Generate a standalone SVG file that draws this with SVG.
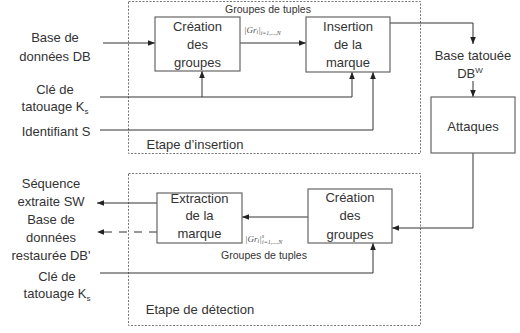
<svg xmlns="http://www.w3.org/2000/svg" width="520" height="333" viewBox="0 0 520 333">
<style>
text{font-family:"Liberation Sans",Arial,sans-serif;font-size:13px;fill:#333;text-anchor:middle}
.sm{font-size:10.5px}
.f{font-family:"Liberation Serif","Times New Roman",serif;font-style:italic;font-size:9px;fill:#555;text-anchor:start}
.box{fill:#fff;stroke:#666;stroke-width:1.2}
.stage{fill:none;stroke:#777;stroke-width:1;stroke-dasharray:2,1.5}
.c{fill:none;stroke:#333;stroke-width:1}
</style>
<defs>
<marker id="a" viewBox="0 0 10 10" refX="10" refY="5" markerWidth="7" markerHeight="7" orient="auto" markerUnits="userSpaceOnUse">
<path d="M0,1 L10,5 L0,9 Z" fill="#222"/>
</marker>
</defs>
<rect width="520" height="333" fill="#fff"/>
<g id="stage-insertion">
<rect class="stage" x="128.5" y="1.5" width="292" height="152"/>
<text x="195" y="149">Etape d’insertion</text>
</g>
<g id="stage-detection">
<rect class="stage" x="128.5" y="173.5" width="292" height="152"/>
<text x="200" y="314">Etape de détection</text>
</g>
<g id="connectors">
<path class="c" d="M103,43 H155" marker-end="url(#a)"/>
<path class="c" d="M240,43 H306" marker-end="url(#a)"/>
<path class="c" d="M100,97 H352 V72" marker-end="url(#a)"/>
<path class="c" d="M202,97 V71" marker-end="url(#a)"/>
<path class="c" d="M100,130 H373 V72" marker-end="url(#a)"/>
<path class="c" d="M390,23 H473 V44" marker-end="url(#a)"/>
<path class="c" d="M473,81 V97" marker-end="url(#a)"/>
<path class="c" d="M473,153 V228 H392" marker-end="url(#a)"/>
<path class="c" d="M308,217 H242" marker-end="url(#a)"/>
<path class="c" d="M157,203 H97" marker-end="url(#a)"/>
<path class="c" d="M157,232 H97" stroke-dasharray="8,7" marker-end="url(#a)"/>
<path class="c" d="M100,273 H373 V243" marker-end="url(#a)"/>
</g>
<g id="input-db">
<text x="55" y="42">Base de</text>
<text x="55" y="61">données DB</text>
</g>
<g id="input-key">
<text x="55" y="94">Clé de</text>
<text x="55" y="111">tatouage K<tspan font-size="8" dy="3">s</tspan></text>
</g>
<g id="input-id">
<text x="56" y="136">Identifiant S</text>
</g>
<g id="creation-top">
<rect class="box" x="155" y="17" width="85" height="54"/>
<text x="197.5" y="31">Création</text>
<text x="197.5" y="49">des</text>
<text x="197.5" y="67">groupes</text>
</g>
<g id="label-top">
<text class="sm" x="268" y="13">Groupes de tuples</text>
<text class="f" x="244" y="33">|Gr<tspan font-size="6" dy="1">i</tspan><tspan dy="-1">|</tspan><tspan font-size="6" dy="2">i=1,...,N</tspan></text>
</g>
<g id="insertion">
<rect class="box" x="306" y="17" width="84" height="55"/>
<text x="348" y="31">Insertion</text>
<text x="348" y="49">de la</text>
<text x="348" y="67">marque</text>
</g>
<g id="base-tatouee">
<text x="473" y="60">Base tatouée</text>
<text x="470" y="78">DB<tspan font-size="8" dy="-5">W</tspan></text>
</g>
<g id="attaques">
<rect class="box" x="431" y="97" width="84" height="56"/>
<text x="473" y="131">Attaques</text>
</g>
<g id="creation-bottom">
<rect class="box" x="308" y="189" width="84" height="54"/>
<text x="350" y="202">Création</text>
<text x="350" y="220">des</text>
<text x="350" y="239">groupes</text>
</g>
<g id="label-bottom">
<text class="f" x="245" y="242">|Gr<tspan font-size="6" dy="1">i</tspan><tspan dy="-1">|</tspan><tspan font-size="6" dy="-4">s</tspan><tspan font-size="6" dx="-2" dy="6">i=1,...,N</tspan></text>
<text class="sm" x="264" y="259">Groupes de tuples</text>
</g>
<g id="extraction">
<rect class="box" x="157" y="193" width="85" height="50"/>
<text x="199.5" y="203">Extraction</text>
<text x="199.5" y="220">de la</text>
<text x="199.5" y="238">marque</text>
</g>
<g id="output-sw">
<text x="51" y="188">Séquence</text>
<text x="51" y="206">extraite SW</text>
</g>
<g id="output-db">
<text x="51" y="224">Base de</text>
<text x="51" y="242">données</text>
<text x="51" y="260">restaurée DB'</text>
</g>
<g id="input-key-bottom">
<text x="57" y="281">Clé de</text>
<text x="57" y="298">tatouage K<tspan font-size="8" dy="3">s</tspan></text>
</g>
</svg>
